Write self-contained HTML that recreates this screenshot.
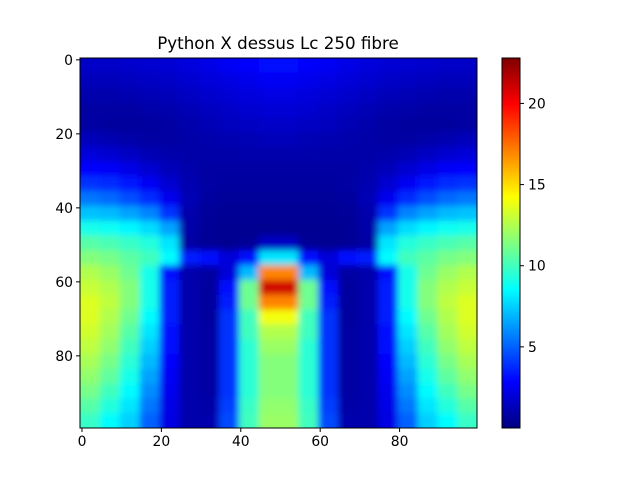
<!DOCTYPE html>
<html><head><meta charset="utf-8"><style>
body{margin:0;background:#fff;}
svg text{font-family:"DejaVu Sans","Liberation Sans",sans-serif;font-size:13.9px;fill:#000;}
</style></head><body>
<svg id="c" width="640" height="480" xmlns="http://www.w3.org/2000/svg">
<defs>
<linearGradient id="cbg" x1="0" y1="1" x2="0" y2="0"></linearGradient>
<clipPath id="clip"><rect x="80" y="58" width="397" height="370"/></clipPath>
<filter id="blur" x="-10%" y="-10%" width="120%" height="120%"><feGaussianBlur stdDeviation="3.5"/></filter>
</defs>
<text x="278" y="49" text-anchor="middle" style="font-size:16.7px">Python X dessus Lc 250 fibre</text>
<g clip-path="url(#clip)"><g id="cells" filter="url(#blur)"></g></g>
<rect x="80" y="58" width="397" height="370" fill="none" stroke="#000" stroke-width="1"/>
<g id="axes"></g>
<rect x="502" y="58" width="18" height="370" fill="url(#cbg)" stroke="#000" stroke-width="1"/>
<g id="cbticks"></g>
</svg>
<script>
const xTicks=[0,20,40,60,80];
const yTicks=[0,20,40,60,80];
const cbTicks=[5,10,15,20];
const vmin=0, vmax=22.8;
const colW=5, rowH=4;
const grid=[
[1.6,1.6,1.7,1.8,1.9,2.1,2.3,2.6,2.8,3.0,3.0,2.8,2.6,2.3,2.1,1.9,1.8,1.7,1.6,1.6],
[1.3,1.3,1.4,1.5,1.6,1.8,2.0,2.2,2.4,2.6,2.6,2.4,2.2,2.0,1.8,1.6,1.5,1.4,1.3,1.3],
[1.0,1.0,1.1,1.2,1.3,1.5,1.7,1.9,2.1,2.2,2.2,2.1,1.9,1.7,1.5,1.3,1.2,1.1,1.0,1.0],
[0.8,0.8,0.8,0.9,1.0,1.2,1.4,1.6,1.8,1.9,1.9,1.8,1.6,1.4,1.2,1.0,0.9,0.8,0.8,0.8],
[0.8,0.7,0.7,0.7,0.8,1.0,1.2,1.4,1.5,1.6,1.6,1.5,1.4,1.2,1.0,0.8,0.7,0.7,0.7,0.8],
[1.3,1.1,0.9,0.8,0.8,0.9,1.0,1.1,1.2,1.3,1.3,1.2,1.1,1.0,0.9,0.8,0.8,0.9,1.1,1.3],
[2.0,1.8,1.5,1.2,1.0,0.9,0.9,0.9,1.0,1.0,1.0,1.0,0.9,0.9,0.9,1.0,1.2,1.5,1.8,2.0],
[2.9,2.7,2.3,1.8,1.3,1.0,0.8,0.8,0.8,0.8,0.8,0.8,0.8,0.8,1.0,1.3,1.8,2.3,2.7,2.9],
[4.0,3.8,3.3,2.6,1.8,1.1,0.8,0.7,0.7,0.7,0.7,0.7,0.7,0.8,1.1,1.8,2.6,3.3,3.8,4.0],
[5.5,5.2,4.6,3.8,2.5,1.2,0.7,0.6,0.6,0.6,0.6,0.6,0.6,0.7,1.2,2.5,3.8,4.6,5.2,5.5],
[7.2,7.0,6.5,5.8,4.0,1.0,0.6,0.5,0.5,0.5,0.5,0.5,0.5,0.6,1.0,4.0,5.8,6.5,7.0,7.2],
[9.0,8.8,8.4,7.8,6.5,0.9,0.5,0.4,0.4,0.4,0.4,0.4,0.4,0.5,0.9,6.5,7.8,8.4,8.8,9.0],
[10.5,10.2,9.8,9.3,8.0,0.8,0.5,0.4,0.5,1.5,1.5,0.5,0.4,0.5,0.8,8.0,9.3,9.8,10.2,10.5],
[11.5,11.2,10.6,10.0,8.5,3.5,3.0,2.0,3.0,8.0,8.0,3.0,2.0,3.0,3.5,8.5,10.0,10.6,11.2,11.5],
[12.5,12,11,9,3,1,0.8,2,7,17,17,7,2,0.8,1,3,9,11,12,12.5],
[13,12.5,11.5,9,3.5,1,0.7,3,11,21,21,11,3,0.7,1,3.5,9,11.5,12.5,13],
[13.5,12.8,11.5,9,3.5,1,0.7,3.5,11,17,17,11,3.5,0.7,1,3.5,9,11.5,12.8,13.5],
[13.5,12.5,11,8.5,3.5,1,0.7,4,10,14,14,10,4,0.7,1,3.5,8.5,11,12.5,13.5],
[13.2,12.2,10.5,8,3.2,1,0.8,4,10,12.5,12.5,10,4,0.8,1,3.2,8,10.5,12.2,13.2],
[12.8,11.8,10,7.5,3,1,0.8,4,9.5,12,12,9.5,4,0.8,1,3,7.5,10,11.8,12.8],
[12.3,11.2,9.5,7,2.8,1,0.8,4,9.5,11.5,11.5,9.5,4,0.8,1,2.8,7,9.5,11.2,12.3],
[11.8,10.7,9,6.5,2.6,1,0.8,4,9.5,11.5,11.5,9.5,4,0.8,1,2.6,6.5,9,10.7,11.8],
[11.2,10,8.5,6,2.5,1,0.8,4,9.5,11.5,11.5,9.5,4,0.8,1,2.5,6,8.5,10,11.2],
[10.5,9.3,8,5.5,2.3,1,0.9,4.2,9.8,11.8,11.8,9.8,4.2,0.9,1,2.3,5.5,8,9.3,10.5],
[9.8,8.5,7.5,5,2.2,1,1,4.5,10,12,12,10,4.5,1,1,2.2,5,7.5,8.5,9.8]
];
const NS="http://www.w3.org/2000/svg";
const X0=80,X1=477,Y0=58,Y1=428;
const xs=v=>X0+(v+0.5)*(X1-X0)/100;
const ys=v=>Y0+(v+0.5)*(Y1-Y0)/100;
const cs=v=>Y1-(v-vmin)/(vmax-vmin)*(Y1-Y0);
function cl(a){return Math.max(0,Math.min(1,a));}
function jet(v){const t=cl((v-vmin)/(vmax-vmin));
 const r=cl(1.5-Math.abs(4*t-3)),g=cl(1.5-Math.abs(4*t-2)),b=cl(1.5-Math.abs(4*t-1));
 return `rgb(${Math.round(r*255)},${Math.round(g*255)},${Math.round(b*255)})`;}
const cells=document.getElementById('cells');
const nR=grid.length;
grid.forEach((row,i)=>row.forEach((v,j)=>{
 const r=document.createElementNS(NS,'rect');
 let x=xs(j*colW-0.5),y=ys(i*rowH-0.5);
 let x2=xs((j+1)*colW-0.5)+0.5,y2=ys((i+1)*rowH-0.5)+0.5;
 if(j===0)x-=15; if(j===row.length-1)x2+=15;
 if(i===0)y-=15; if(i===nR-1)y2+=15;
 r.setAttribute('x',x);r.setAttribute('y',y);
 r.setAttribute('width',x2-x);
 r.setAttribute('height',y2-y);
 r.setAttribute('fill',jet(v));
 
 
 cells.appendChild(r);
}));
const ax=document.getElementById('axes');
function line(x1,y1,x2,y2){const l=document.createElementNS(NS,'line');
 l.setAttribute('x1',x1);l.setAttribute('y1',y1);l.setAttribute('x2',x2);l.setAttribute('y2',y2);
 l.setAttribute('stroke','#000');return l;}
function txt(x,y,s,a){const t=document.createElementNS(NS,'text');
 t.setAttribute('x',x);t.setAttribute('y',y);t.setAttribute('text-anchor',a);t.textContent=s;return t;}
xTicks.forEach(v=>{const x=xs(v);
 const l=line(x,Y1,x,Y1+4);
 
 
 ax.appendChild(l);
 const t=txt(x,Y1+18,v,'middle');
 
 
 ax.appendChild(t);});
yTicks.forEach(v=>{const y=ys(v);
 const l=line(X0-4,y,X0,y);
 
 
 ax.appendChild(l);
 const t=txt(X0-7,y+5,v,'end');
 
 
 ax.appendChild(t);});
const cb=document.getElementById('cbticks');
cbTicks.forEach(v=>{const y=cs(v);
 const l=line(520,y,524,y);
 
 
 cb.appendChild(l);
 const t=txt(528,y+5,v,'start');
 
 
 cb.appendChild(t);});
const g=document.getElementById('cbg');
for(let k=0;k<=16;k++){const s=document.createElementNS(NS,'stop');
 s.setAttribute('offset',k/16);s.setAttribute('stop-color',jet(vmin+k/16*(vmax-vmin)));g.appendChild(s);}
</script>
</body></html>
